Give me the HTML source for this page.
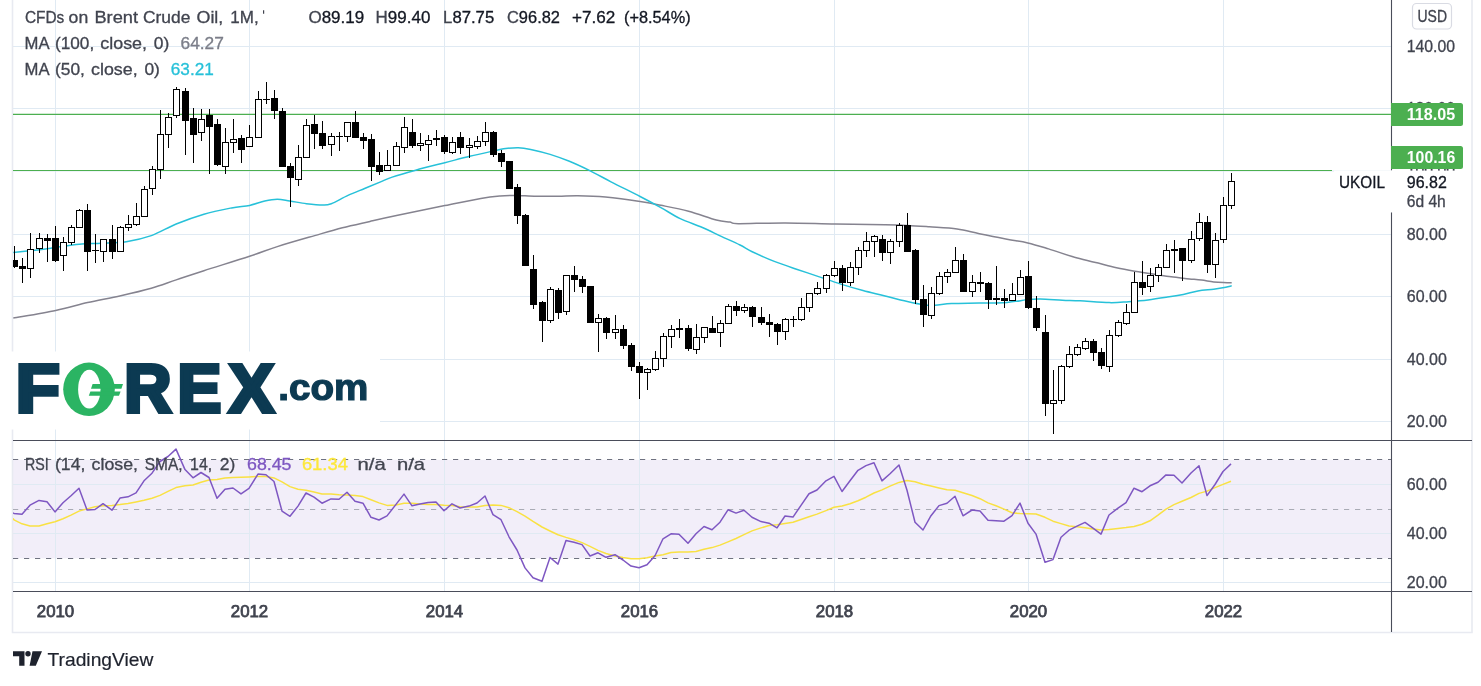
<!DOCTYPE html>
<html lang="en"><head><meta charset="utf-8"><title>CFDs on Brent Crude Oil</title>
<style>html,body{margin:0;padding:0;background:#fff;overflow:hidden}svg text{white-space:pre}</style></head>
<body>
<svg width="1481" height="686" viewBox="0 0 1481 686" style="display:block">
<defs><clipPath id="cp"><rect x="13" y="0" width="1378" height="591"/></clipPath></defs>
<rect width="1481" height="686" fill="#fff"/>
<rect x="13" y="459.8" width="1378" height="98.5" fill="#f2eef9"/>
<path d="M55.5 0V591 M249.5 0V591 M444.5 0V591 M639.5 0V591 M834.5 0V591 M1028.5 0V591 M1223.5 0V591 M13 46.5H1391 M13 108.5H1391 M13 171.0H1391 M13 234.5H1391 M13 296.5H1391 M13 359.5H1391 M13 421.5H1391 M13 484.5H1391 M13 533.5H1391 M13 582.5H1391" stroke="#e0eaf3" stroke-width="1" fill="none"/>
<path d="M12.5 0V632.5H1472V0" stroke="#e8eaf1" stroke-width="1.6" fill="none"/>
<path d="M13 459.5H1391M13 558.5H1391" stroke="#6f7280" stroke-width="1.2" stroke-dasharray="5.2 5.8" fill="none"/>
<path d="M13 509.5H1391" stroke="#a9abb5" stroke-width="1.2" stroke-dasharray="5.2 5.8" fill="none"/>
<path d="M13 114.4H1391M13 170.5H1332" stroke="#4caf50" stroke-width="1.1" fill="none"/>
<g clip-path="url(#cp)">
<path d="M13.3 318.1C20.4 316.8 43.3 313.0 55.7 310.4C68.1 307.8 76.8 305.1 87.6 302.6C98.4 300.2 110.2 298.1 120.8 295.7C131.4 293.3 142.1 290.8 151.3 288.2C160.5 285.6 167.4 282.8 176.2 279.9C185.0 277.0 191.7 274.6 203.9 270.7C216.1 266.8 237.4 260.3 249.6 256.3C261.8 252.3 266.4 250.1 277.3 246.6C288.2 243.1 303.9 238.7 314.7 235.6C325.5 232.5 333.2 230.2 342.4 227.8C351.6 225.4 360.8 223.5 370.0 221.4C379.2 219.3 385.2 217.9 397.7 215.3C410.2 212.7 430.9 208.4 444.8 205.6C458.7 202.8 471.6 200.0 480.8 198.4C490.0 196.8 494.7 196.4 500.2 195.9C505.7 195.4 508.0 195.4 514.0 195.4C520.0 195.4 528.8 196.1 536.2 196.2C543.6 196.3 551.5 196.3 558.4 196.2C565.3 196.1 569.9 195.6 577.8 195.7C585.6 195.8 595.1 196.0 605.5 197.0C615.9 198.0 630.9 200.1 640.1 201.5C649.3 202.9 652.8 203.7 660.9 205.3C669.0 206.9 679.4 208.8 688.6 211.2C697.8 213.6 709.4 218.2 716.3 220.0C723.2 221.8 726.3 221.5 730.0 222.1C733.7 222.7 729.1 223.6 738.3 223.7C747.5 223.8 769.2 222.8 785.4 222.9C801.6 223.0 818.7 223.7 835.3 224.0C851.9 224.3 873.1 224.6 885.1 224.8C897.1 225.0 899.9 225.1 907.3 225.4C914.7 225.7 921.1 226.2 929.4 226.8C937.7 227.4 948.8 227.8 957.1 229.0C965.4 230.2 971.0 232.0 979.3 233.7C987.6 235.4 998.9 237.8 1007.0 239.3C1015.1 240.8 1020.9 241.3 1027.8 242.9C1034.7 244.5 1040.5 246.4 1048.6 248.9C1056.7 251.4 1068.0 255.4 1076.3 257.8C1084.6 260.2 1091.5 261.5 1098.2 263.1C1104.9 264.8 1110.4 266.4 1116.5 267.7C1122.6 269.0 1128.6 270.1 1134.7 271.2C1140.8 272.2 1146.8 273.1 1152.9 274.0C1159.0 274.9 1165.1 276.0 1171.2 276.8C1177.3 277.6 1184.4 278.3 1189.4 278.9C1194.5 279.4 1197.5 279.6 1201.5 280.1C1205.5 280.6 1210.0 281.5 1213.7 281.9C1217.4 282.3 1220.4 282.4 1223.4 282.5C1226.4 282.6 1230.3 282.8 1231.7 282.8" fill="none" stroke="#85838f" stroke-width="1.5"/>
<path d="M13.3 252.5C17.4 252.1 30.6 250.8 37.7 250.0C44.8 249.2 48.8 248.5 55.7 247.5C62.6 246.5 71.7 244.9 79.3 244.2C86.9 243.5 93.6 243.7 101.4 243.3C109.2 242.9 118.0 243.0 126.3 241.7C134.6 240.4 143.0 238.5 151.3 235.6C159.6 232.7 167.4 227.6 176.2 224.0C185.0 220.4 194.7 216.9 203.9 214.2C213.1 211.5 224.0 209.4 231.6 207.9C239.2 206.4 244.1 206.6 249.6 205.4C255.1 204.2 260.2 202.0 264.8 201.0C269.4 200.0 273.1 199.3 277.3 199.3C281.5 199.3 285.0 200.3 289.8 201.0C294.6 201.7 300.9 203.0 306.4 203.7C311.9 204.4 318.9 205.1 323.0 205.1C327.1 205.1 327.1 205.3 331.3 203.7C335.5 202.1 342.4 197.9 348.0 195.4C353.6 192.9 359.3 190.7 364.6 188.5C369.9 186.3 375.4 184.0 380.0 182.1C384.6 180.2 386.2 179.1 392.2 177.1C398.1 175.1 406.9 172.6 415.7 170.2C424.5 167.8 435.8 165.0 444.8 162.7C453.8 160.4 461.9 158.2 469.7 156.3C477.5 154.4 485.9 152.6 491.9 151.3C497.9 150.0 501.3 149.2 505.7 148.6C510.1 148.0 514.0 147.6 518.2 147.7C522.4 147.8 525.4 148.3 530.7 149.4C536.0 150.5 543.7 152.4 550.1 154.4C556.5 156.4 563.0 158.7 569.4 161.3C575.8 163.9 581.9 166.8 588.8 170.2C595.7 173.6 602.5 177.4 611.0 181.8C619.5 186.2 631.8 192.2 640.1 196.5C648.4 200.8 654.2 203.9 660.9 207.6C667.6 211.3 673.3 215.3 680.2 218.6C687.1 221.9 695.5 224.5 702.4 227.5C709.3 230.5 715.5 233.7 721.8 236.6C728.1 239.5 734.9 242.5 740.0 245.0C745.1 247.5 746.5 249.0 752.2 251.7C757.9 254.4 766.9 258.5 774.3 261.4C781.7 264.3 789.1 266.7 796.5 269.2C803.9 271.7 811.2 274.1 818.6 276.6C826.0 279.1 833.4 281.8 840.8 284.1C848.2 286.4 855.6 288.5 863.0 290.5C870.4 292.5 877.7 294.1 885.1 296.0C892.5 297.9 900.8 300.1 907.3 301.6C913.8 303.1 919.3 304.3 923.9 304.9C928.5 305.5 930.4 305.4 935.0 305.2C939.6 305.0 944.2 303.9 951.6 303.5C959.0 303.1 970.1 303.2 979.3 303.0C988.5 302.8 998.9 303.0 1007.0 302.4C1015.1 301.8 1022.3 300.2 1027.8 299.6C1033.3 299.1 1034.4 299.0 1040.2 299.1C1046.0 299.2 1055.8 299.9 1062.4 300.2C1069.0 300.5 1072.2 300.4 1080.0 300.8C1087.8 301.2 1101.1 302.5 1109.2 302.6C1117.3 302.8 1122.1 302.1 1128.6 301.7C1135.1 301.2 1141.5 300.7 1148.0 299.9C1154.5 299.1 1161.6 298.0 1167.5 297.1C1173.4 296.2 1178.2 295.4 1183.3 294.4C1188.4 293.4 1192.8 291.9 1197.9 291.0C1203.0 290.1 1209.1 289.8 1213.7 289.2C1218.3 288.6 1222.8 287.8 1225.8 287.2C1228.8 286.6 1230.7 286.0 1231.7 285.8" fill="none" stroke="#27c1d9" stroke-width="1.5"/>
<path d="M14 246h1V268h-1z M22 258h1V283h-1z M30 233h1V278h-1z M39 233h1V253h-1z M47 234h1V262h-1z M55 226h1V262h-1z M63 237h1V271h-1z M71 225h1V245h-1z M79 209h1V228h-1z M87 204h1V271h-1z M95 234h1V263h-1z M103 239h1V262h-1z M112 225h1V259h-1z M120 226h1V252h-1z M128 215h1V231h-1z M136 203h1V226h-1z M144 186h1V217h-1z M152 166h1V195h-1z M160 110h1V179h-1z M168 113h1V148h-1z M176 87h1V118h-1z M185 88h1V155h-1z M193 108h1V163h-1z M201 109h1V141h-1z M209 109h1V174h-1z M217 119h1V166h-1z M225 128h1V174h-1z M233 119h1V153h-1z M241 135h1V163h-1z M249 125h1V147h-1z M258 91h1V138h-1z M266 82h1V104h-1z M274 90h1V119h-1z M282 108h1V167h-1z M290 163h1V207h-1z M298 145h1V186h-1z M306 119h1V158h-1z M314 115h1V149h-1z M322 121h1V149h-1z M331 133h1V156h-1z M339 132h1V151h-1z M347 122h1V142h-1z M355 111h1V138h-1z M363 133h1V149h-1z M371 134h1V181h-1z M379 152h1V175h-1z M387 150h1V171h-1z M396 142h1V166h-1z M404 117h1V153h-1z M412 119h1V148h-1z M420 133h1V151h-1z M428 135h1V161h-1z M436 130h1V146h-1z M444 135h1V154h-1z M452 137h1V154h-1z M460 132h1V154h-1z M469 138h1V158h-1z M477 136h1V149h-1z M485 122h1V146h-1z M493 131h1V157h-1z M501 150h1V167h-1z M509 161h1V189h-1z M517 184h1V224h-1z M525 214h1V266h-1z M533 255h1V309h-1z M542 301h1V342h-1z M550 287h1V323h-1z M558 288h1V319h-1z M566 275h1V315h-1z M574 266h1V292h-1z M582 276h1V293h-1z M590 286h1V323h-1z M598 314h1V352h-1z M606 317h1V339h-1z M615 315h1V339h-1z M623 325h1V349h-1z M631 343h1V371h-1z M639 362h1V399h-1z M647 368h1V390h-1z M655 351h1V371h-1z M663 333h1V367h-1z M671 325h1V348h-1z M679 319h1V338h-1z M688 325h1V351h-1z M696 324h1V354h-1z M704 327h1V343h-1z M712 316h1V333h-1z M720 320h1V347h-1z M728 304h1V324h-1z M736 301h1V316h-1z M744 304h1V313h-1z M752 306h1V327h-1z M761 307h1V325h-1z M769 314h1V337h-1z M777 323h1V345h-1z M785 318h1V340h-1z M793 316h1V327h-1z M801 298h1V321h-1z M809 293h1V312h-1z M817 282h1V295h-1z M826 274h1V293h-1z M834 261h1V277h-1z M842 265h1V291h-1z M850 262h1V286h-1z M858 247h1V275h-1z M866 232h1V257h-1z M874 235h1V257h-1z M882 235h1V261h-1z M890 239h1V264h-1z M899 223h1V247h-1z M907 213h1V252h-1z M915 249h1V304h-1z M923 285h1V327h-1z M931 287h1V319h-1z M939 272h1V295h-1z M947 269h1V283h-1z M955 247h1V273h-1z M963 254h1V292h-1z M972 275h1V297h-1z M980 272h1V292h-1z M988 282h1V309h-1z M996 266h1V305h-1z M1004 289h1V308h-1z M1012 283h1V301h-1z M1020 270h1V295h-1z M1028 261h1V309h-1z M1036 296h1V331h-1z M1045 315h1V416h-1z M1053 370h1V434h-1z M1061 365h1V404h-1z M1069 346h1V368h-1z M1077 344h1V356h-1z M1085 338h1V350h-1z M1093 339h1V361h-1z M1101 348h1V369h-1z M1109 330h1V372h-1z M1118 320h1V337h-1z M1126 304h1V325h-1z M1134 272h1V313h-1z M1142 261h1V295h-1z M1150 268h1V292h-1z M1158 264h1V282h-1z M1166 244h1V268h-1z M1174 240h1V273h-1z M1182 248h1V281h-1z M1191 231h1V263h-1z M1199 213h1V241h-1z M1207 216h1V273h-1z M1215 233h1V278h-1z M1223 197h1V243h-1z M1231 173h1V209h-1z" fill="#000"/>
<path d="M11 260h7V267h-7z M19 266h7V269h-7z M27 249h7V269h-7z M36 238h7V249h-7z M44 238h7V241h-7z M52 238h7V261h-7z M60 242h7V256h-7z M68 227h7V243h-7z M76 210h7V228h-7z M84 210h7V252h-7z M92 250h7V251h-7z M100 239h7V252h-7z M109 239h7V252h-7z M117 227h7V252h-7z M125 224h7V228h-7z M133 216h7V225h-7z M141 189h7V217h-7z M149 169h7V189h-7z M157 134h7V170h-7z M165 117h7V135h-7z M173 89h7V116h-7z M182 91h7V121h-7z M190 118h7V135h-7z M198 119h7V133h-7z M206 115h7V127h-7z M214 124h7V165h-7z M222 142h7V167h-7z M230 139h7V143h-7z M238 138h7V150h-7z M246 137h7V147h-7z M255 99h7V138h-7z M263 99h7V100h-7z M271 98h7V111h-7z M279 111h7V167h-7z M287 166h7V178h-7z M295 157h7V180h-7z M303 125h7V158h-7z M311 124h7V134h-7z M319 133h7V146h-7z M328 136h7V145h-7z M336 136h7V137h-7z M344 122h7V137h-7z M352 122h7V138h-7z M360 137h7V141h-7z M368 139h7V167h-7z M376 165h7V172h-7z M384 165h7V171h-7z M393 146h7V166h-7z M401 127h7V148h-7z M409 132h7V146h-7z M417 143h7V146h-7z M425 140h7V145h-7z M433 138h7V140h-7z M441 137h7V152h-7z M449 142h7V153h-7z M457 137h7V148h-7z M466 145h7V148h-7z M474 141h7V147h-7z M482 132h7V142h-7z M490 132h7V155h-7z M498 153h7V162h-7z M506 161h7V189h-7z M514 187h7V216h-7z M522 215h7V266h-7z M530 269h7V305h-7z M539 302h7V321h-7z M547 289h7V321h-7z M555 290h7V313h-7z M563 275h7V312h-7z M571 275h7V280h-7z M579 279h7V287h-7z M587 286h7V323h-7z M595 318h7V323h-7z M603 318h7V333h-7z M612 329h7V333h-7z M620 329h7V346h-7z M628 345h7V367h-7z M636 366h7V373h-7z M644 369h7V373h-7z M652 358h7V370h-7z M660 336h7V359h-7z M668 329h7V337h-7z M676 328h7V330h-7z M685 328h7V349h-7z M693 337h7V350h-7z M701 327h7V338h-7z M709 328h7V333h-7z M717 323h7V333h-7z M725 306h7V324h-7z M733 306h7V311h-7z M741 307h7V311h-7z M749 307h7V317h-7z M758 317h7V323h-7z M766 322h7V325h-7z M774 324h7V332h-7z M782 319h7V332h-7z M790 319h7V320h-7z M798 307h7V320h-7z M806 293h7V308h-7z M814 288h7V294h-7z M823 275h7V289h-7z M831 268h7V276h-7z M839 268h7V283h-7z M847 267h7V283h-7z M855 250h7V268h-7z M863 241h7V251h-7z M871 236h7V242h-7z M879 239h7V253h-7z M887 241h7V253h-7z M896 225h7V242h-7z M904 225h7V252h-7z M912 250h7V300h-7z M920 299h7V315h-7z M928 293h7V316h-7z M936 276h7V294h-7z M944 272h7V277h-7z M952 260h7V273h-7z M960 260h7V292h-7z M969 282h7V292h-7z M977 282h7V284h-7z M985 283h7V300h-7z M993 298h7V300h-7z M1001 298h7V301h-7z M1009 294h7V301h-7z M1017 277h7V295h-7z M1025 276h7V308h-7z M1033 308h7V328h-7z M1042 332h7V404h-7z M1050 400h7V404h-7z M1058 366h7V401h-7z M1066 354h7V367h-7z M1074 347h7V355h-7z M1082 341h7V349h-7z M1090 341h7V353h-7z M1098 352h7V366h-7z M1106 335h7V367h-7z M1115 322h7V336h-7z M1123 312h7V324h-7z M1131 282h7V313h-7z M1139 282h7V288h-7z M1147 275h7V287h-7z M1155 267h7V276h-7z M1163 250h7V268h-7z M1171 249h7V251h-7z M1179 248h7V261h-7z M1188 239h7V261h-7z M1196 222h7V239h-7z M1204 222h7V265h-7z M1212 240h7V265h-7z M1220 205h7V240h-7z M1228 181h7V206h-7z" fill="#000"/>
<path d="M28 250h5V268h-5z M37 239h5V248h-5z M61 243h5V255h-5z M69 228h5V242h-5z M77 211h5V227h-5z M101 240h5V251h-5z M118 228h5V251h-5z M126 225h5V227h-5z M134 217h5V224h-5z M142 190h5V216h-5z M150 170h5V188h-5z M158 135h5V169h-5z M166 118h5V134h-5z M174 90h5V115h-5z M199 120h5V132h-5z M223 143h5V166h-5z M231 140h5V142h-5z M247 138h5V146h-5z M256 100h5V137h-5z M296 158h5V179h-5z M304 126h5V157h-5z M329 137h5V144h-5z M345 123h5V136h-5z M385 166h5V170h-5z M394 147h5V165h-5z M402 128h5V147h-5z M418 144h5V145h-5z M426 141h5V144h-5z M450 143h5V152h-5z M467 146h5V147h-5z M475 142h5V146h-5z M483 133h5V141h-5z M548 290h5V320h-5z M564 276h5V311h-5z M596 319h5V322h-5z M613 330h5V332h-5z M645 370h5V372h-5z M653 359h5V369h-5z M661 337h5V358h-5z M669 330h5V336h-5z M694 338h5V349h-5z M702 328h5V337h-5z M718 324h5V332h-5z M726 307h5V323h-5z M742 308h5V310h-5z M783 320h5V331h-5z M799 308h5V319h-5z M807 294h5V307h-5z M815 289h5V293h-5z M824 276h5V288h-5z M832 269h5V275h-5z M848 268h5V282h-5z M856 251h5V267h-5z M864 242h5V250h-5z M872 237h5V241h-5z M888 242h5V252h-5z M897 226h5V241h-5z M929 294h5V315h-5z M937 277h5V293h-5z M945 273h5V276h-5z M953 261h5V272h-5z M970 283h5V291h-5z M1010 295h5V300h-5z M1018 278h5V294h-5z M1051 401h5V403h-5z M1059 367h5V400h-5z M1067 355h5V366h-5z M1075 348h5V354h-5z M1083 342h5V348h-5z M1107 336h5V366h-5z M1116 323h5V335h-5z M1124 313h5V323h-5z M1132 283h5V312h-5z M1148 276h5V286h-5z M1156 268h5V275h-5z M1164 251h5V267h-5z M1189 240h5V260h-5z M1197 223h5V238h-5z M1213 241h5V264h-5z M1221 206h5V239h-5z M1229 182h5V205h-5z" fill="#fff"/>
<polyline points="13.0,518.3 14.0,519.8 22.0,523.8 30.0,525.9 39.0,526.0 47.0,523.8 55.0,521.8 63.0,518.7 71.0,515.1 79.0,511.1 87.0,508.9 95.0,506.8 103.0,505.8 112.0,505.5 120.0,504.6 128.0,503.5 136.0,501.9 144.0,500.2 152.0,498.2 160.0,495.4 168.0,491.4 176.0,487.6 185.0,485.7 193.0,485.0 201.0,482.3 209.0,480.0 217.0,479.6 225.0,478.1 233.0,477.4 241.0,477.2 249.0,476.9 258.0,476.4 266.0,476.5 274.0,477.9 282.0,481.8 290.0,486.6 298.0,489.3 306.0,490.3 314.0,492.1 322.0,493.9 331.0,494.0 339.0,494.7 347.0,495.0 355.0,495.5 363.0,496.6 371.0,499.7 379.0,502.9 387.0,505.4 396.0,504.9 404.0,503.3 412.0,503.3 420.0,504.1 428.0,504.4 436.0,504.4 444.0,505.2 452.0,505.5 460.0,506.7 469.0,507.0 477.0,507.0 485.0,505.5 493.0,505.1 501.0,505.4 509.0,507.7 517.0,511.7 525.0,516.1 533.0,521.4 542.0,527.0 550.0,531.0 558.0,534.8 566.0,537.4 574.0,539.8 582.0,542.6 590.0,546.4 598.0,550.4 606.0,553.5 615.0,556.0 623.0,557.6 631.0,558.8 639.0,558.8 647.0,557.8 655.0,556.0 663.0,554.7 671.0,552.5 679.0,552.1 688.0,552.1 696.0,551.4 704.0,549.3 712.0,547.6 720.0,545.1 728.0,541.9 736.0,538.5 744.0,534.6 752.0,530.9 761.0,527.9 769.0,525.5 777.0,524.8 785.0,523.5 793.0,522.3 801.0,519.5 809.0,516.7 817.0,514.1 826.0,510.6 834.0,507.3 842.0,506.0 850.0,503.7 858.0,500.8 866.0,497.2 874.0,493.0 882.0,489.9 890.0,486.1 899.0,482.4 907.0,480.5 915.0,481.7 923.0,484.3 931.0,486.1 939.0,487.9 947.0,489.8 955.0,490.2 963.0,492.7 972.0,495.5 980.0,498.7 988.0,502.9 996.0,505.7 1004.0,509.1 1012.0,512.7 1020.0,513.6 1028.0,513.7 1036.0,514.0 1045.0,517.3 1053.0,521.2 1061.0,523.6 1069.0,526.0 1077.0,526.8 1085.0,527.7 1093.0,528.9 1101.0,529.9 1109.0,529.4 1118.0,528.5 1126.0,527.6 1134.0,526.5 1142.0,524.3 1150.0,520.8 1158.0,515.1 1166.0,509.1 1174.0,504.6 1182.0,501.3 1191.0,497.5 1199.0,493.4 1207.0,491.1 1215.0,487.6 1223.0,484.4 1231.0,481.3" fill="none" stroke="#f9e143" stroke-width="1.5" stroke-linejoin="round"/>
<polyline points="13.0,512.9 14.0,513.4 22.0,514.3 30.0,505.2 39.0,500.4 47.0,501.7 55.0,511.9 63.0,502.7 71.0,495.7 79.0,488.3 87.0,509.9 95.0,509.5 103.0,503.7 112.0,510.2 120.0,498.1 128.0,496.8 136.0,492.9 144.0,480.8 152.0,473.2 160.0,461.5 168.0,456.5 176.0,449.1 185.0,469.6 193.0,477.8 201.0,472.5 209.0,477.5 217.0,498.3 225.0,489.2 233.0,488.0 241.0,493.9 249.0,488.4 258.0,474.1 266.0,474.7 274.0,481.5 282.0,511.1 290.0,516.3 298.0,506.1 306.0,493.0 314.0,497.2 322.0,503.2 331.0,498.9 339.0,499.3 347.0,492.3 355.0,501.3 363.0,503.2 371.0,517.3 379.0,520.0 387.0,515.9 396.0,504.4 404.0,494.1 412.0,505.8 420.0,504.1 428.0,502.4 436.0,502.1 444.0,510.8 452.0,503.8 460.0,508.0 469.0,506.1 477.0,503.0 485.0,496.0 493.0,514.6 501.0,519.7 509.0,536.8 517.0,550.0 525.0,567.9 533.0,577.8 542.0,581.2 550.0,557.5 558.0,564.1 566.0,540.6 574.0,542.2 582.0,544.6 590.0,556.0 598.0,552.8 606.0,557.3 615.0,554.7 623.0,560.0 631.0,566.1 639.0,567.7 647.0,564.8 655.0,555.7 663.0,538.8 671.0,533.8 679.0,534.2 688.0,543.3 696.0,533.8 704.0,526.5 712.0,529.7 720.0,522.2 728.0,509.8 736.0,513.1 744.0,510.2 752.0,517.3 761.0,521.6 769.0,523.2 777.0,527.9 785.0,516.0 793.0,517.1 801.0,505.3 809.0,493.8 817.0,490.0 826.0,480.8 834.0,476.4 842.0,491.5 850.0,480.7 858.0,470.3 866.0,465.6 874.0,462.8 882.0,480.9 890.0,473.8 899.0,465.0 907.0,490.2 915.0,522.2 923.0,530.0 931.0,515.7 939.0,505.6 947.0,503.3 955.0,496.3 963.0,515.8 972.0,510.0 980.0,511.0 988.0,520.3 996.0,520.8 1004.0,521.2 1012.0,515.6 1020.0,503.1 1028.0,523.3 1036.0,534.1 1045.0,562.3 1053.0,559.6 1061.0,537.3 1069.0,530.2 1077.0,526.1 1085.0,522.4 1093.0,528.1 1101.0,534.1 1109.0,515.0 1118.0,508.1 1126.0,502.6 1134.0,488.2 1142.0,491.7 1150.0,485.8 1158.0,482.3 1166.0,474.9 1174.0,475.3 1182.0,483.0 1191.0,473.0 1199.0,465.8 1207.0,495.6 1215.0,484.5 1223.0,471.5 1231.0,463.9" fill="none" stroke="#7e57c2" stroke-width="1.5" stroke-linejoin="round"/>
</g>
<rect x="0" y="351.5" width="380" height="78" fill="#fff"/>
<g font-family="Liberation Sans, Arial, sans-serif" font-weight="bold" stroke-linejoin="miter">
<text y="412.4" font-size="68" fill="#0c3a52" stroke="#0c3a52" stroke-width="4.2"><tspan x="15.7" textLength="44.1" lengthAdjust="spacingAndGlyphs">F</tspan><tspan x="62" textLength="54" lengthAdjust="spacingAndGlyphs" fill="#2bb463" stroke="#2bb463" stroke-width="0">O</tspan><tspan x="124.3" textLength="47.2" lengthAdjust="spacingAndGlyphs">R</tspan><tspan x="177.5" textLength="43.8" lengthAdjust="spacingAndGlyphs">E</tspan><tspan x="229.1" textLength="45" lengthAdjust="spacingAndGlyphs">X</tspan></text>
<ellipse cx="89" cy="389.3" rx="25.8" ry="26.7" fill="#2bb463"/>
<ellipse cx="89.3" cy="389.2" rx="11.2" ry="19.4" fill="#fff"/>
<path d="M92.6 383.9H123L121.4 388.7H91zM90.4 391.5H120.6L119 395.8H88.8z" fill="#2bb463"/>
<text x="278.3" y="400.3" font-size="36" fill="#0c3a52" stroke="#0c3a52" stroke-width="1.2" textLength="90" lengthAdjust="spacingAndGlyphs">.com</text>
</g>

<path d="M13 440.5H1472M13 591.5H1472" stroke="#4a4d5a" stroke-width="1.1" fill="none"/>
<path d="M1391.5 0V170.5M1391.5 212.3V632" stroke="#4a4d5a" stroke-width="1.1" fill="none"/>
<g font-family="Liberation Sans, Arial, sans-serif" fill="#41444f" stroke="#41444f" stroke-width="0.3" font-size="16">
<text x="1406.8" y="51.6" textLength="48.2" lengthAdjust="spacingAndGlyphs">140.00</text>
<text x="1406.8" y="113.6" textLength="48.2" lengthAdjust="spacingAndGlyphs">120.00</text>
<text x="1406.8" y="176.1" textLength="48.2" lengthAdjust="spacingAndGlyphs">100.00</text>
<text x="1406.8" y="239.6" textLength="40" lengthAdjust="spacingAndGlyphs">80.00</text>
<text x="1406.8" y="301.6" textLength="40" lengthAdjust="spacingAndGlyphs">60.00</text>
<text x="1406.8" y="364.6" textLength="40" lengthAdjust="spacingAndGlyphs">40.00</text>
<text x="1406.8" y="426.6" textLength="40" lengthAdjust="spacingAndGlyphs">20.00</text>
<text x="1406.8" y="489.6" textLength="40" lengthAdjust="spacingAndGlyphs">60.00</text>
<text x="1406.8" y="538.6" textLength="40" lengthAdjust="spacingAndGlyphs">40.00</text>
<text x="1406.8" y="587.6" textLength="40" lengthAdjust="spacingAndGlyphs">20.00</text>
</g>
<g font-family="Liberation Sans, Arial, sans-serif" fill="#41444f" font-size="16" stroke="#41444f" stroke-width="0.75">
<text x="36.8" y="616.8" textLength="37.4" lengthAdjust="spacingAndGlyphs">2010</text>
<text x="230.8" y="616.8" textLength="37.4" lengthAdjust="spacingAndGlyphs">2012</text>
<text x="425.8" y="616.8" textLength="37.4" lengthAdjust="spacingAndGlyphs">2014</text>
<text x="620.8" y="616.8" textLength="37.4" lengthAdjust="spacingAndGlyphs">2016</text>
<text x="815.8" y="616.8" textLength="37.4" lengthAdjust="spacingAndGlyphs">2018</text>
<text x="1009.8" y="616.8" textLength="37.4" lengthAdjust="spacingAndGlyphs">2020</text>
<text x="1204.8" y="616.8" textLength="37.4" lengthAdjust="spacingAndGlyphs">2022</text>
</g>
<rect x="1391" y="103" width="72" height="23" rx="2.5" fill="#4caf50"/><rect x="1391" y="103" width="4" height="23" fill="#4caf50"/>
<rect x="1391" y="146" width="72" height="23" rx="2.5" fill="#4caf50"/><rect x="1391" y="146" width="4" height="23" fill="#4caf50"/>
<rect x="1334" y="170.6" width="132" height="41.7" fill="#fff"/>
<g font-family="Liberation Sans, Arial, sans-serif" font-size="16" font-weight="bold" fill="#fff"><text x="1406.8" y="120.3" textLength="48.4" lengthAdjust="spacingAndGlyphs">118.05</text><text x="1406.8" y="163.3" textLength="48.4" lengthAdjust="spacingAndGlyphs">100.16</text></g>
<g font-family="Liberation Sans, Arial, sans-serif" font-size="16" fill="#131722" stroke="#131722" stroke-width="0.3"><text x="1406.8" y="187.6" textLength="40" lengthAdjust="spacingAndGlyphs">96.82</text><text x="1406.8" y="206.6" textLength="39" lengthAdjust="spacingAndGlyphs" fill="#41444f" stroke="#41444f">6d 4h</text><text x="1339" y="187.6" textLength="46" lengthAdjust="spacingAndGlyphs">UKOIL</text></g>
<rect x="1412.5" y="3.5" width="39" height="25.5" rx="4" fill="#fff" stroke="#d9dbe3" stroke-width="1.2"/>
<g font-family="Liberation Sans, Arial, sans-serif" font-size="16" fill="#41444f" stroke="#41444f" stroke-width="0.3"><text x="1417.5" y="22" textLength="29.5" lengthAdjust="spacingAndGlyphs">USD</text></g>
<g font-family="Liberation Sans, Arial, sans-serif" font-size="16.4" fill="#41444f" stroke="#41444f" stroke-width="0.3">
<text y="22.5"><tspan x="24.9" textLength="39.4" lengthAdjust="spacingAndGlyphs">CFDs</tspan> <tspan x="68.6" textLength="19.6" lengthAdjust="spacingAndGlyphs">on</tspan> <tspan x="94.4" textLength="43.6" lengthAdjust="spacingAndGlyphs">Brent</tspan> <tspan x="143.0" textLength="47.4" lengthAdjust="spacingAndGlyphs">Crude</tspan> <tspan x="196.5" textLength="26.8" lengthAdjust="spacingAndGlyphs">Oil,</tspan> <tspan x="230.3" textLength="28.4" lengthAdjust="spacingAndGlyphs">1M,</tspan></text>
<path d="M263.6 10.3V13.8" stroke="#41444f" stroke-width="1.2"/>
<text x="308.4" y="22.5" textLength="55.9" lengthAdjust="spacingAndGlyphs">O<tspan fill="#131722" stroke="#131722">89.19</tspan></text>
<text x="375.6" y="22.5" textLength="54.8" lengthAdjust="spacingAndGlyphs">H<tspan fill="#131722" stroke="#131722">99.40</tspan></text>
<text x="443.1" y="22.5" textLength="51.1" lengthAdjust="spacingAndGlyphs">L<tspan fill="#131722" stroke="#131722">87.75</tspan></text>
<text x="507" y="22.5" textLength="53" lengthAdjust="spacingAndGlyphs">C<tspan fill="#131722" stroke="#131722">96.82</tspan></text>
<text y="22.5" fill="#131722" stroke="#131722"><tspan x="572.1" textLength="43.3" lengthAdjust="spacingAndGlyphs">+7.62</tspan> <tspan x="624.0" textLength="66.6" lengthAdjust="spacingAndGlyphs">(+8.54%)</tspan></text>
<text y="48.7"><tspan x="24.5" textLength="24.1" lengthAdjust="spacingAndGlyphs">MA</tspan> <tspan x="55.0" textLength="39.2" lengthAdjust="spacingAndGlyphs">(100,</tspan> <tspan x="100.3" textLength="46.7" lengthAdjust="spacingAndGlyphs">close,</tspan> <tspan x="153.7" textLength="15.5" lengthAdjust="spacingAndGlyphs">0)</tspan> <tspan x="180.5" textLength="43.4" lengthAdjust="spacingAndGlyphs" fill="#7b7e89" stroke="#7b7e89">64.27</tspan></text>
<text y="74.7"><tspan x="24.5" textLength="24.1" lengthAdjust="spacingAndGlyphs">MA</tspan> <tspan x="55.0" textLength="29.9" lengthAdjust="spacingAndGlyphs">(50,</tspan> <tspan x="91.0" textLength="46.6" lengthAdjust="spacingAndGlyphs">close,</tspan> <tspan x="144.4" textLength="15.5" lengthAdjust="spacingAndGlyphs">0)</tspan> <tspan x="170.8" textLength="43.0" lengthAdjust="spacingAndGlyphs" fill="#27c1d9" stroke="#27c1d9">63.21</tspan></text>
<text y="469.6"><tspan x="24.9" textLength="23.7" lengthAdjust="spacingAndGlyphs">RSI</tspan> <tspan x="55.0" textLength="30.3" lengthAdjust="spacingAndGlyphs">(14,</tspan> <tspan x="91.6" textLength="46.4" lengthAdjust="spacingAndGlyphs">close,</tspan> <tspan x="144.8" textLength="37.8" lengthAdjust="spacingAndGlyphs">SMA,</tspan> <tspan x="190.1" textLength="22.2" lengthAdjust="spacingAndGlyphs">14,</tspan> <tspan x="219.8" textLength="15.5" lengthAdjust="spacingAndGlyphs">2)</tspan> <tspan x="247.0" textLength="44.5" lengthAdjust="spacingAndGlyphs" fill="#7e57c2" stroke="#7e57c2">68.45</tspan> <tspan x="301.9" textLength="46.0" lengthAdjust="spacingAndGlyphs" fill="#fde83a" stroke="#fde83a">61.34</tspan> <tspan x="357.5" textLength="28.2" lengthAdjust="spacingAndGlyphs">n/a</tspan> <tspan x="397.0" textLength="28.1" lengthAdjust="spacingAndGlyphs">n/a</tspan></text>
</g>
<g font-family="Liberation Sans, Arial, sans-serif" font-size="18.6" fill="#1e222d" stroke="#1e222d" stroke-width="0.2"><text x="47.6" y="666.3" textLength="105.7" lengthAdjust="spacingAndGlyphs">TradingView</text></g>
<path d="M13 651.2H24.5V665.8H19.2V656.3H13zM32.5 651.2H42L35.8 665.8H29.6z" fill="#1e222d"/><circle cx="28" cy="653.8" r="2.7" fill="#1e222d"/>
</svg>
</body></html>
